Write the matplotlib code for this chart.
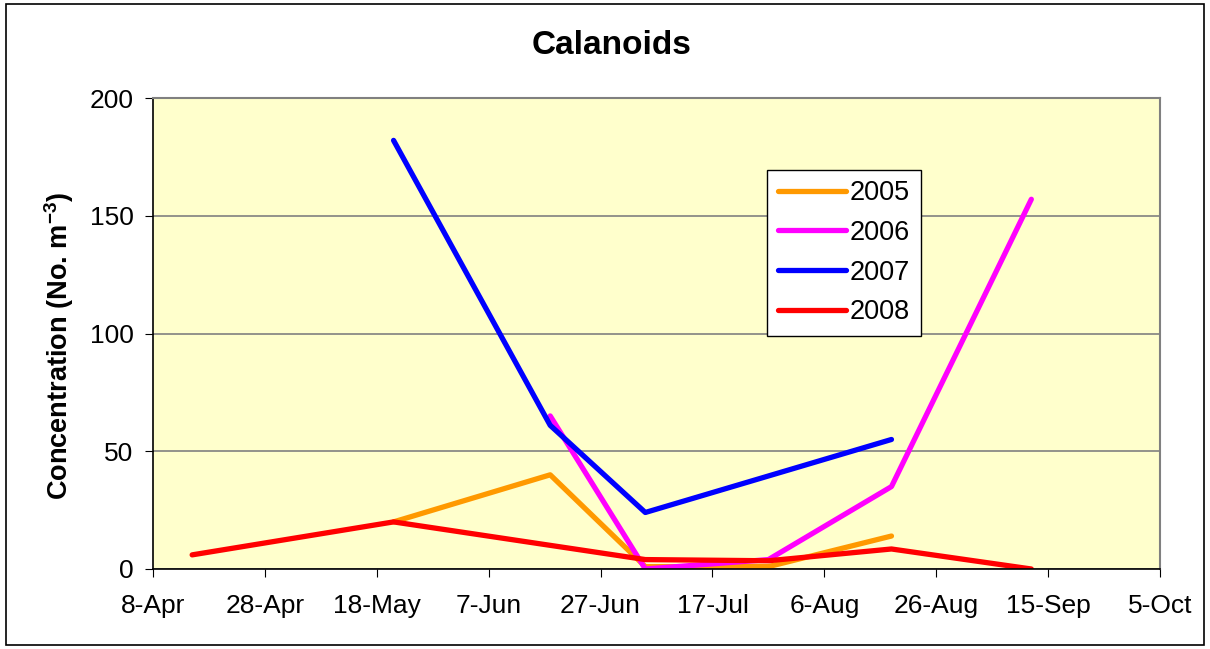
import numpy as np
import pandas as pd
import matplotlib
matplotlib.use("Agg")
import matplotlib.pyplot as plt
import matplotlib.dates as mdates
from matplotlib.patches import Rectangle

plt.rcParams['font.family'] = ['Liberation Sans', 'DejaVu Sans']
plt.rcParams['mathtext.fontset'] = 'custom'
plt.rcParams['mathtext.rm'] = 'Liberation Sans'
plt.rcParams['mathtext.bf'] = 'Liberation Sans:bold'

# Sampling dates (year is arbitrary, only day-month is shown)
dates_2005 = ["2001-05-21", "2001-06-18", "2001-07-05", "2001-07-27", "2001-08-18"]
vals_2005 = [20, 40, 1, 1, 14]

dates_2006 = ["2001-06-18", "2001-07-05", "2001-07-27", "2001-08-18", "2001-09-12"]
vals_2006 = [65, 0, 4, 35, 157]

dates_2007 = ["2001-05-21", "2001-06-18", "2001-07-05", "2001-08-18"]
vals_2007 = [182, 61, 24, 55]

dates_2008 = ["2001-04-15", "2001-05-21", "2001-07-05", "2001-07-27", "2001-08-18", "2001-09-12"]
vals_2008 = [6, 20, 4, 3.5, 8.5, 0]

series = [
    ("2005", dates_2005, vals_2005, "#FF9900"),
    ("2006", dates_2006, vals_2006, "#FF00FF"),
    ("2007", dates_2007, vals_2007, "#0000FF"),
    ("2008", dates_2008, vals_2008, "#FF0000"),
]

tick_dates = pd.date_range("2001-04-08", "2001-10-05", freq="20D")

fig = plt.figure(figsize=(12.1, 6.49), dpi=100)
ax = fig.add_axes([153 / 1210, 1 - 569 / 649, 1007 / 1210, 471 / 649])
ax.set_facecolor("#FFFFCC")

for name, d, v, c in series:
    ax.plot(pd.to_datetime(d), v, color=c, lw=3.8, label=name, solid_capstyle="round")

ax.set_xlim(tick_dates[0], tick_dates[-1])
ax.set_ylim(0, 200)
ax.set_xticks(tick_dates)
ax.xaxis.set_major_formatter(mdates.DateFormatter("%-d-%b"))
ax.set_yticks([0, 50, 100, 150, 200])
ax.tick_params(labelsize=19, direction="out", length=6, color="black")
ax.tick_params(axis="x", pad=12)
ax.tick_params(axis="y", pad=8)
ax.yaxis.grid(True, color="#808080", lw=1.2)
ax.set_axisbelow(True)
for s in ["top", "right"]:
    ax.spines[s].set_color("#808080")
    ax.spines[s].set_linewidth(1.5)
for s in ["left", "bottom"]:
    ax.spines[s].set_color("black")
    ax.spines[s].set_linewidth(1.2)

# title is centred on the chart area, not the plot area
fig.text(612 / 1210, 1 - 45 / 649, "Calanoids", fontsize=24, fontweight="bold",
         ha="center", va="center")
ax.set_ylabel("Concentration (No. m$^{\\mathbf{-3}}$)", fontsize=19.5, fontweight="bold")
ax.yaxis.set_label_coords(-0.076, 0.473)

leg = ax.legend(loc="upper left", bbox_to_anchor=(0.61, 0.848), fontsize=19.5,
                fancybox=False, edgecolor="black", framealpha=1, handlelength=2.5,
                handletextpad=0.15, labelspacing=0.5, borderpad=0.4, borderaxespad=0)
leg.get_frame().set_linewidth(1.0)

fig.patches.append(Rectangle((6 / 1210, 4 / 649), 1198 / 1210, 641 / 649,
                             transform=fig.transFigure, fill=False, edgecolor="black", lw=1.2))

fig.savefig("out.png", dpi=100)
